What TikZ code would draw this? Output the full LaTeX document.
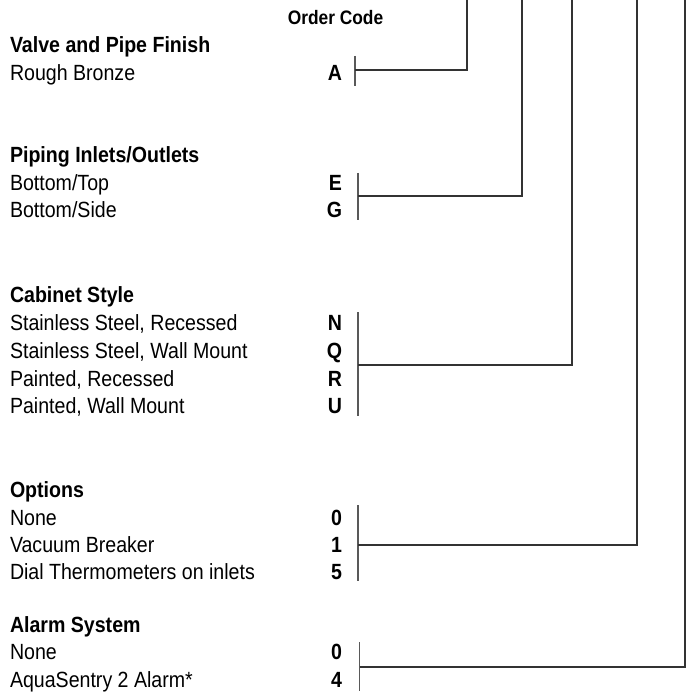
\documentclass[tikz,border=0pt]{standalone}
\usepackage{fontspec}
\setmainfont{Liberation Sans}[FakeStretch=0.89]
\begin{document}
\begin{tikzpicture}[x=1pt,y=-1pt,
  every node/.style={inner sep=0pt, outer sep=0pt, font=\fontsize{22}{26}\selectfont},
  lbl/.style={anchor=base west},
  hdr/.style={anchor=base west, font=\fontsize{22}{26}\selectfont\bfseries},
  codel/.style={anchor=base east, font=\fontsize{22}{26}\selectfont\bfseries},
  wire/.style={draw=black!80, line width=1.1pt},
  tick/.style={draw=black!65, line width=1.1pt}]
\useasboundingbox (0,0) rectangle (686,692);

\node[anchor=base, font=\fontsize{19.5}{23}\selectfont\bfseries] (oc) at (335.5,25) {Order Code};

% Valve and Pipe Finish
\node[hdr] (h1) at (10,53) {Valve and Pipe Finish};
\node[lbl] (a1) at (10,81) {Rough Bronze};
\node[codel] (cA) at (342,81) {A};

% Piping
\node[hdr] (h2) at (10,163) {Piping Inlets/Outlets};
\node[lbl] (b1) at (10,191) {Bottom/Top};
\node[codel] (cE) at (342,191) {E};
\node[lbl] (b2) at (10,218) {Bottom/Side};
\node[codel] (cG) at (342,218) {G};

% Cabinet
\node[hdr] (h3) at (10,302) {Cabinet Style};
\node[lbl] (c1) at (10,330) {Stainless Steel, Recessed};
\node[codel] (cN) at (342,330) {N};
\node[lbl] (c2) at (10,358) {Stainless Steel, Wall Mount};
\node[codel] (cQ) at (342,358) {Q};
\node[lbl] (c3) at (10,386) {Painted, Recessed};
\node[codel] (cR) at (342,386) {R};
\node[lbl] (c4) at (10,413) {Painted, Wall Mount};
\node[codel] (cU) at (342,413) {U};

% Options
\node[hdr] (h4) at (10,497) {Options};
\node[lbl] (d1) at (10,525) {None};
\node[codel] (c0a) at (342,525) {0};
\node[lbl] (d2) at (10,552) {Vacuum Breaker};
\node[codel] (c1b) at (342,552) {1};
\node[lbl] (d3) at (10,579) {Dial Thermometers on inlets};
\node[codel] (c5) at (342,579) {5};

% Alarm
\node[hdr] (h5) at (10,632) {Alarm System};
\node[lbl] (e1) at (10,659) {None};
\node[codel] (c0b) at (342,659) {0};
\node[lbl] (e2) at (10,687) {AquaSentry 2 Alarm*};
\node[codel] (c4b) at (342,687) {4};

% tick and corner coordinates
\coordinate (tA1) at (355,56);  \coordinate (tA2) at (355,86);
\coordinate (mA) at (355,70);   \coordinate (kA) at (467,70);  \coordinate (uA) at (467,0);
\coordinate (tB1) at (358,173); \coordinate (tB2) at (358,220);
\coordinate (mB) at (358,196);  \coordinate (kB) at (522,196); \coordinate (uB) at (522,0);
\coordinate (tC1) at (358,312); \coordinate (tC2) at (358,416);
\coordinate (mC) at (358,365);  \coordinate (kC) at (572,365); \coordinate (uC) at (572,0);
\coordinate (tD1) at (358,505); \coordinate (tD2) at (358,581);
\coordinate (mD) at (358,545);  \coordinate (kD) at (637,545); \coordinate (uD) at (637,0);
\coordinate (tE1) at (359.5,642); \coordinate (tE2) at (359.5,691);
\coordinate (mE) at (359.5,667);  \coordinate (kE) at (685,667); \coordinate (uE) at (685,0);

\foreach \g in {A,B,C,D,E}{
  \draw[tick] (t\g1) -- (t\g2);
  \draw[wire] (m\g) -- (k\g) -- (u\g);
}
\end{tikzpicture}
\end{document}
